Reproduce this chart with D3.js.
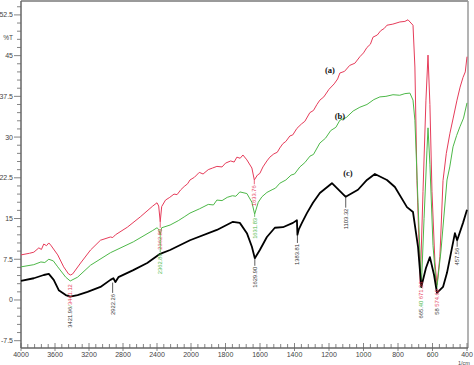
<!DOCTYPE html>
<html><head><meta charset="utf-8">
<script src="https://cdn.jsdelivr.net/npm/d3@7"></script>
<style>body{margin:0;background:#fff}svg{display:block}</style>
</head><body>
<script>
// ---- data (wavenumber cm-1, %T) ----
const seriesA = [[4000,8.3],[3900,8.6],[3849,8.8],[3790,9.6],[3760,9.3],[3732,10.3],[3700,10.0],[3673,10.5],[3650,10.1],[3568,8.3],[3498,6.1],[3441,4.8],[3416,4.6],[3392,4.8],[3299,6.8],[3182,9.2],[3065,11.0],[2948,11.6],[2920,11.5],[2889,12.0],[2749,13.4],[2597,15.3],[2450,17.3],[2400,17.9],[2380,17.3],[2362,14.4],[2345,17.2],[2300,18.4],[2250,18.9],[2200,19.5],[2164,19.4],[2120,20.3],[2080,20.9],[2040,21.4],[2012,22.1],[1980,22.6],[1952,23.5],[1930,23.2],[1900,24.0],[1875,24.3],[1850,24.6],[1820,24.5],[1800,25.2],[1770,25.6],[1750,25.4],[1734,26.3],[1715,26.1],[1699,26.7],[1676,25.8],[1647,24.3],[1633,22.1],[1615,23.0],[1601,23.3],[1583,24.5],[1560,25.6],[1543,26.3],[1520,26.9],[1500,27.2],[1485,28.0],[1467,28.8],[1450,29.2],[1427,30.2],[1410,30.4],[1386,31.6],[1360,32.4],[1340,32.9],[1311,34.5],[1290,34.9],[1270,36.0],[1253,36.8],[1230,37.4],[1200,38.8],[1170,39.8],[1150,40.7],[1137,41.8],[1110,42.1],[1080,43.2],[1050,43.6],[1021,44.8],[1000,45.5],[980,46.5],[960,47.1],[945,48.4],[920,48.8],[900,49.6],[880,50.0],[864,50.6],[830,50.8],[789,51.2],[760,51.3],[742,51.6],[713,50.6],[702,42.9],[690,22],[671,3],[655,20],[638,36.8],[626,45.1],[615,36],[603,20],[586,7],[574,2.8],[557,8],[539,22],[520,27],[499,30.7],[480,33.5],[458,36.8],[440,39.2],[423,41],[410,42],[400,44.8]];
const seriesB = [[4000,6.1],[3850,6.5],[3766,7.0],[3720,6.9],[3673,7.5],[3620,7.2],[3568,6.1],[3474,4.2],[3421,3.5],[3334,4.2],[3182,6.4],[2948,8.7],[2679,10.7],[2450,12.8],[2400,13.3],[2380,13.0],[2362,12.0],[2345,13.3],[2246,13.8],[2150,14.6],[2080,15.3],[2012,16],[1950,16.8],[1900,17.6],[1870,17.5],[1850,18.4],[1820,18.3],[1790,18.9],[1760,19.2],[1740,19.1],[1717,19.9],[1676,19.6],[1647,18],[1631,15.8],[1610,18],[1589,19],[1560,19.8],[1530,20.3],[1510,20.6],[1485,21.5],[1450,22.1],[1420,23.0],[1400,23.2],[1369,24.5],[1340,25.3],[1310,26.5],[1290,26.8],[1253,28.9],[1220,29.8],[1190,31.2],[1160,31.8],[1137,33.1],[1100,33.6],[1060,34.8],[1021,35.5],[980,36.0],[940,36.9],[905,37.4],[870,37.5],[829,37.8],[790,37.7],[760,38.0],[731,38.1],[713,36.8],[702,33.1],[684,18],[665,2.2],[649,15],[632,27.6],[626,31.7],[615,25],[597,10],[576,1.8],[551,9],[516,22.1],[500,24.5],[481,28.2],[460,30.3],[441,31.9],[420,33.5],[400,36.3]];
const seriesC = [[4000,3.5],[3849,4.0],[3732,4.6],[3673,4.8],[3615,3.7],[3556,1.8],[3474,0.9],[3421,0.6],[3334,0.9],[3217,1.5],[3065,2.4],[2948,3.7],[2913,4.0],[2889,3.3],[2854,4.2],[2679,5.5],[2515,6.8],[2363,8.5],[2246,9.2],[2012,11],[1850,12.9],[1757,14.4],[1717,14.2],[1676,12.3],[1647,9.8],[1630,7.7],[1601,9.2],[1560,11.6],[1514,13.3],[1467,13.4],[1409,14.2],[1386,14.7],[1383,12],[1375,13],[1357,14.2],[1328,16],[1293,17.9],[1253,19.7],[1183,21.5],[1103,19],[1032,20.3],[980,22.1],[934,23.2],[864,22.1],[818,20.8],[748,17.1],[713,16.2],[684,9.8],[665,2.4],[638,5.9],[615,7.9],[591,4.6],[574,1.3],[539,2.4],[516,5],[470,12.3],[457,11],[423,14.2],[400,16.6]];
const seriesNames = ["(a)","(b)","(c)"];
const seriesNamePos = [[1195,42.4],[1137,33.9],[1090,23.4]];
const xTickValues = [4000,3600,3200,2800,2400,2000,1800,1600,1400,1200,1000,800,600,400];
const yTickValues = [-7.5,0,7.5,15,22.5,30,37.5,45,52.5];
// peak annotations: wavenumber, %T where leader starts, %T where text starts, text parts
const peakLabels = [
  {wn:3421, from:3.1, to:3.1, parts:[["3421.96","#333"],["/","#4db848"],["3441.12","#e63c5a"]], c:"#333"},
  {wn:2922, from:3.2, to:1.3, parts:[["2922.26","#333"]], c:"#333"},
  {wn:2362, from:14.4, to:13.3, parts:[["2362.89","#e63c5a"]], c:"#e63c5a"},
  {wn:2362, from:12.0, to:8.8, parts:[["2362.86","#4db848"]], c:"#4db848"},
  {wn:1633, from:22.1, to:21.3, parts:[["1633.76","#e63c5a"]], c:"#e63c5a"},
  {wn:1631, from:15.8, to:15.3, parts:[["1631.83","#4db848"]], c:"#4db848"},
  {wn:1630, from:7.7, to:6.3, parts:[["1629.90","#333"]], c:"#333"},
  {wn:1383, from:12.0, to:10.5, parts:[["1383.81","#333"]], c:"#333"},
  {wn:1103, from:19.0, to:17.0, parts:[["1103.32","#333"]], c:"#333"},
  {wn:668, from:2.5, to:3.6, parts:[["665.","#333"],["40 ","#4db848"],["671.26","#e63c5a"]], c:"#333"},
  {wn:574, from:1.3, to:2.2, parts:[["58 ","#333"],["574.69","#e63c5a"]], c:"#333"},
  {wn:457, from:11.0, to:9.8, parts:[["457.56","#333"]], c:"#333"}
];

const W=474,H=365;
const svg=d3.select("body").append("svg").attr("width",W).attr("height",H);
const x=d3.scaleLinear().domain([4000,2000,400]).range([21,191,467]);
const y=d3.scaleLinear().domain([-7.5,52.5]).range([340.7,14.9]);
const fL=21,fR=468,fT=1,fB=348;

// frame
svg.append("line").attr("x1",fL).attr("x2",fR).attr("y1",fT).attr("y2",fT).attr("stroke","#9a9a9a").attr("stroke-width",2);
svg.append("line").attr("x1",fR).attr("x2",fR).attr("y1",fT).attr("y2",fB).attr("stroke","#9a9a9a").attr("stroke-width",1.5);
svg.append("line").attr("x1",fL).attr("x2",fL).attr("y1",fT).attr("y2",fB).attr("stroke","#666").attr("stroke-width",1.5);
svg.append("line").attr("x1",fL).attr("x2",fR).attr("y1",fB).attr("y2",fB).attr("stroke","#666").attr("stroke-width",1.5);

// y ticks
const yMinor=d3.range(-7.5,55.1,1.5).filter(v=>!yTickValues.some(t=>Math.abs(t-v)<1e-6));
svg.selectAll(".ymin").data(yMinor).join("line").attr("x1",fL-4).attr("x2",fL).attr("y1",d=>y(d)).attr("y2",d=>y(d)).attr("stroke","#666").attr("stroke-width",0.8);
svg.selectAll(".ymaj").data(yTickValues).join("line").attr("x1",fL-7).attr("x2",fL).attr("y1",d=>y(d)).attr("y2",d=>y(d)).attr("stroke","#666").attr("stroke-width",0.8);
svg.selectAll(".ylab").data(yTickValues).join("text").attr("x",fL-8).attr("y",d=>y(d)).attr("dy","0.35em").attr("text-anchor","end")
  .attr("font-family","Liberation Sans, Arial, sans-serif").attr("font-size",7).attr("fill","#444").text(d=>d);
svg.append("text").attr("x",8).attr("y",y(48.3)).attr("dy","0.35em").attr("text-anchor","middle").attr("font-family","Liberation Sans, Arial, sans-serif").attr("font-size",6.5).attr("fill","#444").text("%T");

// x ticks
const xMinor=d3.range(400,2000,40).concat(d3.range(2000,4001,80)).filter(v=>!xTickValues.includes(v));
svg.selectAll(".xmin").data(xMinor).join("line").attr("x1",d=>x(d)).attr("x2",d=>x(d)).attr("y1",fB-4).attr("y2",fB).attr("stroke","#666").attr("stroke-width",0.8);
svg.selectAll(".xmaj").data(xTickValues).join("line").attr("x1",d=>x(d)).attr("x2",d=>x(d)).attr("y1",fB-5).attr("y2",fB+3).attr("stroke","#666").attr("stroke-width",0.8);
svg.selectAll(".xlab").data(xTickValues).join("text").attr("x",d=>x(d)).attr("y",fB+7).attr("dy","0.35em").attr("text-anchor","middle")
  .attr("font-family","Liberation Sans, Arial, sans-serif").attr("font-size",7).attr("fill","#444").text(d=>d);
svg.append("text").attr("x",464).attr("y",364.5).attr("text-anchor","middle").attr("font-family","Liberation Sans, Arial, sans-serif").attr("font-size",5.5).attr("fill","#444").text("1/cm");

// series
const line=d3.line().x(d=>x(d[0])).y(d=>y(d[1]));
const series=[[seriesA,"#e63c5a",1],[seriesB,"#4db848",1],[seriesC,"#000",1.8]];
series.forEach(([data,col,w])=>{
  svg.append("path").datum(data).attr("d",line).attr("fill","none").attr("stroke",col).attr("stroke-width",w).attr("stroke-linejoin","round");
});

// series names
svg.selectAll(".sname").data(seriesNames).join("text").attr("x",(d,i)=>x(seriesNamePos[i][0])).attr("y",(d,i)=>y(seriesNamePos[i][1]))
  .attr("dy","0.35em").attr("text-anchor","middle").attr("font-family","Liberation Serif, Times New Roman, serif").attr("font-weight","bold").attr("font-size",8.5).attr("fill","#111").text(d=>d);

// peak labels
peakLabels.forEach(p=>{
  const px=x(p.wn);
  if(p.to<p.from) svg.append("line").attr("x1",px).attr("x2",px).attr("y1",y(p.from)).attr("y2",y(p.to)).attr("stroke",p.c).attr("stroke-width",0.8);
  const t=svg.append("text").attr("transform",`translate(${px},${y(p.to)+1}) rotate(-90)`).attr("text-anchor","end").attr("dy","0.35em")
    .attr("font-family","Liberation Sans, Arial, sans-serif").attr("font-size",5.8);
  p.parts.forEach(([s,c])=>t.append("tspan").attr("fill",c).text(s));
});
</script>
</body></html>
